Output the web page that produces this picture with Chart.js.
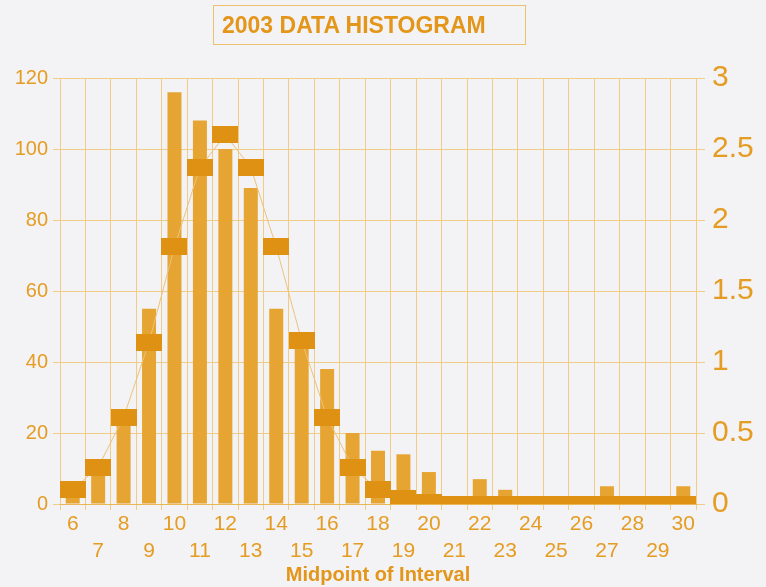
<!DOCTYPE html>
<html><head><meta charset="utf-8">
<script src="https://cdn.jsdelivr.net/npm/chart.js@4.4.0/dist/chart.umd.min.js"></script>
<style>
html,body{margin:0;padding:0;background:#F3F2F4;}
#wrap{width:766px;height:587px;position:relative;background:#F3F2F4;}
#ttl{position:absolute;left:213px;top:5px;width:303px;height:38px;border:1px solid #EDC070;
 font:bold 23px "Liberation Sans",Arial,sans-serif;color:#E3961A;line-height:38px;padding-left:8px;white-space:nowrap;}
canvas{position:absolute;left:0;top:0;}
</style>
</head><body><div id="wrap"><canvas id="c" width="766" height="587"></canvas><div id="ttl">2003 DATA HISTOGRAM</div></div>
<script>
const categories = [6,7,8,9,10,11,12,13,14,15,16,17,18,19,20,21,22,23,24,25,26,27,28,29,30];
const frequency  = [3,8,22,55,116,108,100,89,55,44,38,20,15,14,9,2,7,4,0,0,0,5,0,0,5];
const density    = [0.10,0.26,0.61,1.14,1.81,2.37,2.60,2.37,1.81,1.15,0.61,0.26,0.10,0.04,0.01,0,0,0,0,0,0,0,0,0,0];
const leftTicks  = [0,20,40,60,80,100,120];
const rightTicks = [0,0.5,1,1.5,2,2.5,3];
const xTitle = 'Midpoint of Interval';

const ORANGE_TXT = '#E59C22';
const GRID = '#F0CC86';
const FONT = '"Liberation Sans",Arial,sans-serif';

const mk = document.createElement('canvas');
mk.width = 26; mk.height = 17;
const mctx = mk.getContext('2d');
mctx.fillStyle = '#DF9114';
mctx.fillRect(0,0,26,17);

new Chart(document.getElementById('c'), {
  data: {
    labels: categories.map(String),
    datasets: [
      {type:'line', data: density, yAxisID:'y2', order:0, clip:0,
       borderColor:'#EDC27A', borderWidth:1, tension:0,
       pointStyle: mk, pointRadius:8, pointHoverRadius:8},
      {type:'bar', data: frequency, yAxisID:'y', order:1,
       backgroundColor:'#E6A532', barPercentage:0.55, categoryPercentage:1.0}
    ]
  },
  options: {
    responsive:false, animation:false,
    layout:{padding:{top:78,left:0,right:0,bottom:0}},
    plugins:{legend:{display:false}, tooltip:{enabled:false}, title:{display:false}},
    scales:{
      x:{type:'category', offset:true,
         grid:{offset:true, color:GRID, lineWidth:1, tickLength:6},
         border:{color:'#EBB655'},
         ticks:{autoSkip:false, maxRotation:0, minRotation:0, color:ORANGE_TXT, padding:1,
                font:{family:FONT, size:21, lineHeight:'27px'},
                callback:(v,i)=> i%2===0 ? String(categories[i]) : ['', String(categories[i])]},
         title:{display:true, text:xTitle, color:'#E3961A', padding:{top:0,bottom:0},
                font:{family:FONT, size:20, weight:'bold', lineHeight:1.2}},
         afterFit:s=>{s.height=83;}
      },
      y:{position:'left', min:0, max:120,
         afterBuildTicks:s=>{s.ticks = leftTicks.map(v=>({value:v}));},
         grid:{color:GRID, lineWidth:1, tickLength:7},
         border:{display:false},
         ticks:{color:ORANGE_TXT, padding:5, font:{family:FONT, size:20}},
         afterFit:s=>{s.width=60;}
      },
      y2:{position:'right', min:0, max:3,
         afterBuildTicks:s=>{s.ticks = rightTicks.map(v=>({value:v}));},
         grid:{drawOnChartArea:false, color:GRID, tickLength:9},
         border:{display:false},
         ticks:{color:ORANGE_TXT, padding:7, font:{family:FONT, size:30}, callback:v=>String(v)},
         afterFit:s=>{s.width=70;}
      }
    }
  }
});
</script>
</body></html>
